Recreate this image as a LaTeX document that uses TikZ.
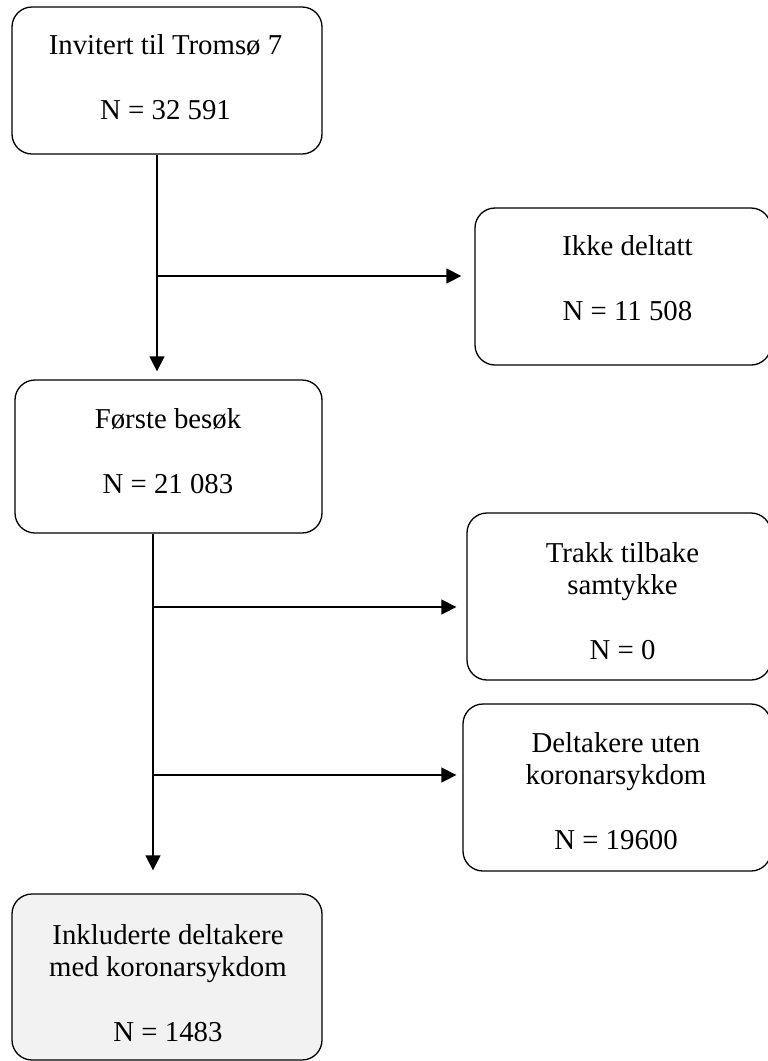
\documentclass[tikz,border=0pt]{standalone}
\usepackage{fontspec}
\setmainfont{Liberation Serif}
\usetikzlibrary{arrows.meta}
\begin{document}
\begin{tikzpicture}[x=1pt,y=-1pt,
  box/.style={draw=black, line width=1.3pt, rounded corners=20pt, inner sep=0pt},
  txt/.style={align=center, inner sep=0pt, font=\fontsize{28.8}{32.5}\selectfont},
  arr/.style={draw=black, line width=1.3pt, -{Triangle[length=15pt,width=15pt]}}]
\useasboundingbox (0,0) rectangle (768,1061);
% boxes
\node[box, minimum width=310pt, minimum height=147pt] (b1) at (167,80.5) {};
\node[box, minimum width=296pt, minimum height=157pt] (b2) at (623,286.5) {};
\node[box, minimum width=307pt, minimum height=153pt] (b3) at (168.5,456.5) {};
\node[box, minimum width=304pt, minimum height=167pt] (b4) at (619,596.5) {};
\node[box, minimum width=308pt, minimum height=167pt] (b5) at (617,787.5) {};
\node[box, fill={rgb,255:red,242;green,242;blue,242}, minimum width=310pt, minimum height=166pt] (b6) at (167,977) {};
% texts
\node[txt] (t1) at (165.5,77.5) {Invitert til Tromsø 7\\[32.5pt]N = 32 591};
\node[txt] (t2) at (627.5,278.5) {Ikke deltatt\\[32.5pt]N = 11 508};
\node[txt] (t3) at (168,451.5) {Første besøk\\[32.5pt]N = 21 083};
\node[txt] (t4) at (622.5,601) {Trakk tilbake\\samtykke\\[32.5pt]N = 0};
\node[txt] (t5) at (616,791) {Deltakere uten\\koronarsykdom\\[32.5pt]N = 19600};
\node[txt] (t6) at (168,983) {Inkluderte deltakere\\med koronarsykdom\\[32.5pt]N = 1483};
% connectors
\coordinate (j1) at (157,276);
\coordinate (j2) at (153,607);
\coordinate (j3) at (153,775);
\draw[arr, shorten >=8pt] (b1.south -| j1) -- (b3.north -| j1);
\draw[arr, shorten >=13pt] (j1) -- (b2.west |- j1);
\draw[arr, shorten >=23pt] (b3.south -| j2) -- (b6.north -| j2);
\draw[arr, shorten >=10pt] (j2) -- (b4.west |- j2);
\draw[arr, shorten >=6pt] (j3) -- (b5.west |- j3);
\end{tikzpicture}
\end{document}
